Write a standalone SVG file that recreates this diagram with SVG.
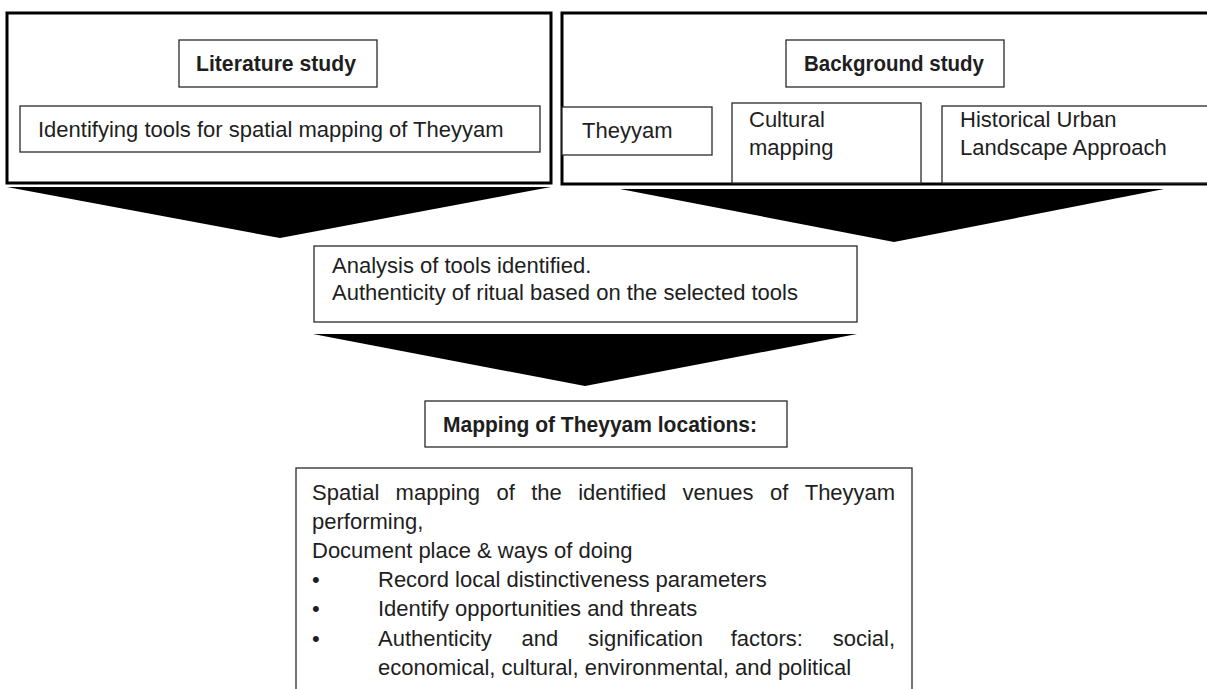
<svg xmlns="http://www.w3.org/2000/svg" width="1207" height="689" viewBox="0 0 1207 689">
<style>
.outer{fill:#fff;stroke:#000;stroke-width:3}
.box{fill:#fff;stroke:#2a2a2a;stroke-width:1.3}
.t{font-family:"Liberation Sans",Arial,sans-serif;font-size:22px;fill:#1e1e1e}
.b{font-weight:bold}
.arrow{fill:#000}
</style>
<rect width="1207" height="689" fill="#fff"/>
<g id="literature">
<rect class="outer" x="7" y="13" width="544" height="170"/>
<rect class="box" x="179" y="40" width="198" height="47"/>
<text class="t b" x="196" y="71" textLength="160" lengthAdjust="spacingAndGlyphs">Literature study</text>
<rect class="box" x="20" y="106" width="520" height="46"/>
<text class="t" x="38" y="137">Identifying tools for spatial mapping of Theyyam</text>
</g>
<g id="background">
<rect class="outer" x="562" y="13" width="648" height="171"/>
<rect class="box" x="786" y="40" width="218" height="47"/>
<text class="t b" x="804" y="71" textLength="180" lengthAdjust="spacingAndGlyphs">Background study</text>
<rect class="box" x="562" y="107" width="150" height="48"/>
<text class="t" x="582" y="138">Theyyam</text>
<rect class="box" x="732" y="103" width="189" height="80"/>
<text class="t" x="749" y="127">Cultural</text>
<text class="t" x="749" y="155">mapping</text>
<rect class="box" x="942" y="106" width="270" height="77"/>
<text class="t" x="960" y="127">Historical Urban</text>
<text class="t" x="960" y="155">Landscape Approach</text>
</g>
<g id="connectors">
<polygon class="arrow" points="7,187 551,187 280,238"/>
<polygon class="arrow" points="620,189 1164,189 894,242"/>
<polygon class="arrow" points="313,334 857,334 585,386"/>
</g>
<g id="analysis">
<rect class="box" x="314" y="246" width="543" height="76"/>
<text class="t" x="332" y="273">Analysis of tools identified.</text>
<text class="t" x="332" y="300">Authenticity of ritual based on the selected tools</text>
</g>
<g id="mapping">
<rect class="box" x="425" y="401" width="362" height="46"/>
<text class="t b" x="443" y="432" textLength="314" lengthAdjust="spacingAndGlyphs">Mapping of Theyyam locations:</text>
</g>
<g id="details">
<rect class="box" x="296" y="468" width="616" height="240"/>
<text class="t" y="500"><tspan x="312">Spatial</tspan><tspan x="395.6">mapping</tspan><tspan x="496.4">of</tspan><tspan x="531.2">the</tspan><tspan x="578.2">identified</tspan><tspan x="682.6">venues</tspan><tspan x="769.9">of</tspan><tspan x="804.7">Theyyam</tspan></text>
<text class="t" x="312" y="529">performing,</text>
<text class="t" x="312" y="558">Document place &amp; ways of doing</text>
<text class="t" x="312" y="587">•</text>
<text class="t" x="378" y="587">Record local distinctiveness parameters</text>
<text class="t" x="312" y="616">•</text>
<text class="t" x="378" y="616">Identify opportunities and threats</text>
<text class="t" x="312" y="646">•</text>
<text class="t" y="646"><tspan x="378">Authenticity</tspan><tspan x="521.6">and</tspan><tspan x="588.1">signification</tspan><tspan x="730.7">factors:</tspan><tspan x="832.7">social,</tspan></text>
<text class="t" x="378" y="675">economical, cultural, environmental, and political</text>
</g>
</svg>
